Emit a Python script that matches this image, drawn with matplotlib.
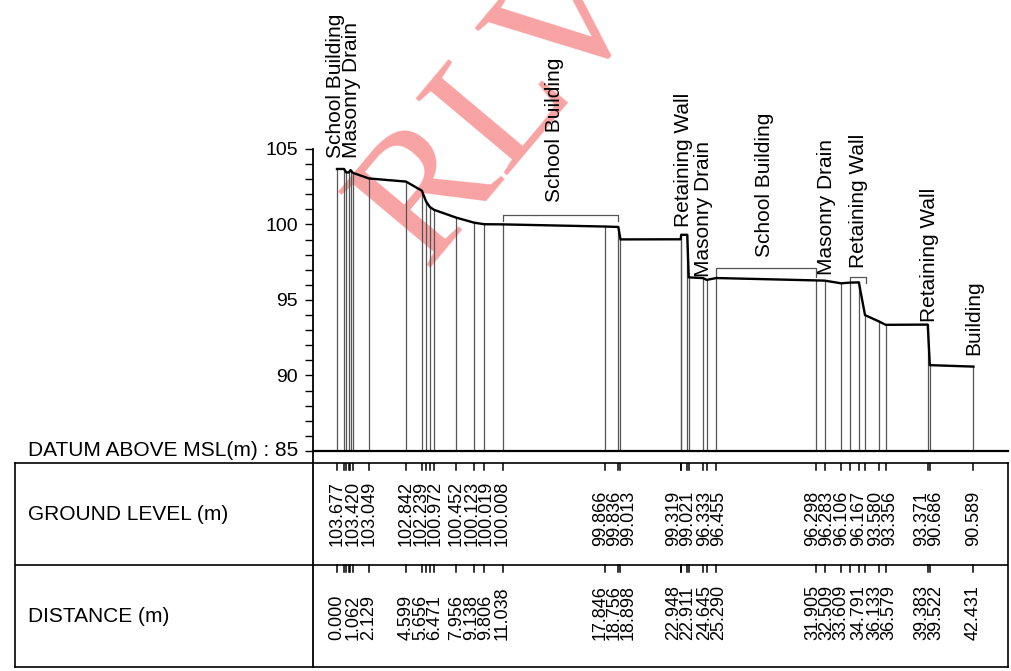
import numpy as np
import matplotlib
matplotlib.use("Agg")
import matplotlib.pyplot as plt

plt.rcParams['font.family'] = ['Liberation Sans', 'DejaVu Sans']

# Stations shown in the table (distance m, ground level m)
distances = [0.000, 1.062, 2.129, 4.599, 5.656, 6.471, 7.956, 9.138, 9.806, 11.038,
             17.846, 18.756, 18.898, 22.948, 22.911, 24.645, 25.290,
             31.905, 32.509, 33.609, 34.791, 36.133, 36.579, 39.383, 39.522, 42.431]
levels = [103.677, 103.420, 103.049, 102.842, 102.239, 100.972, 100.452, 100.123, 100.019, 100.008,
          99.866, 99.836, 99.013, 99.319, 99.021, 96.333, 96.455,
          96.298, 96.283, 96.106, 96.167, 93.580, 93.356, 93.371, 90.686, 90.589]

# Ground profile vertices as drawn (includes unlabelled break points)
profile_x = [0.000, 0.47, 0.62, 0.80, 0.90, 1.062, 2.129, 4.599, 5.656, 5.95, 6.2, 6.471,
             7.956, 9.138, 9.806, 11.038, 17.846, 18.756, 18.898, 22.911, 22.948, 23.35,
             23.45, 24.40, 24.645, 25.290, 31.905, 32.509, 33.609, 34.20, 34.791, 35.20,
             36.133, 36.579, 39.383, 39.522, 42.431]
profile_y = [103.677, 103.677, 103.45, 103.45, 103.60, 103.420, 103.049, 102.842, 102.239, 101.5,
             101.15, 100.972, 100.452, 100.123, 100.019, 100.008, 99.866, 99.836, 99.013, 99.021,
             99.319, 99.319, 96.50, 96.45, 96.333, 96.455, 96.298, 96.283, 96.106, 96.15,
             96.167, 94.00, 93.580, 93.356, 93.371, 90.686, 90.589]

# Feature annotations
features = ['School Building', 'Masonry Drain', 'School Building', 'Retaining Wall',
            'Masonry Drain', 'School Building', 'Masonry Drain', 'Retaining Wall',
            'Retaining Wall', 'Building']
feature_x = [-0.13, 0.98, 14.53, 23.07, 24.43, 28.53, 32.6, 34.8, 39.47, 42.47]
feature_y = [104.4, 104.4, 101.5, 99.85, 96.5, 97.87, 96.66, 97.1, 93.56, 91.36]

# Brackets over structures: (start, end, top level, end level)
bracket_start = [11.038, 25.290, 34.20]
bracket_end = [18.756, 31.905, 35.27]
bracket_top = [100.63, 97.14, 96.54]
bracket_low = [100.23, 96.54, 96.10]

datum = 85
W, H = 1011, 671
px = 15.0          # pixels per metre along the chainage
x0px = 337         # pixel of chainage 0


def xdata(p):
    return (p - x0px) / px


def spread(xs, gap):
    # push crowded labels apart, each crowded group centred on its stations
    groups = []
    for x in xs:
        groups.append([1, x])
        while len(groups) > 1:
            a, b = groups[-2], groups[-1]
            a_end = a[1] + (a[0] - 1) * gap / 2
            b_start = b[1] - (b[0] - 1) * gap / 2
            if b_start - a_end < gap:
                n = a[0] + b[0]
                groups[-2:] = [[n, (a[1] * a[0] + b[1] * b[0]) / n]]
            else:
                break
    out = []
    for n, c in groups:
        out += [c + (k - (n - 1) / 2) * gap for k in range(n)]
    return out


fig = plt.figure(figsize=(W / 100, H / 100), dpi=100)

# profile axes
ax = fig.add_axes([313 / W, (H - 451) / H, (1008 - 313) / W, (451 - 149) / H])
ax.set_xlim(xdata(313), xdata(1008))
ax.set_ylim(85, 105)
for s in ['top', 'right']:
    ax.spines[s].set_visible(False)
ax.spines['left'].set_linewidth(1.3)
ax.spines['bottom'].set_linewidth(1.6)
ax.set_xticks([])
ax.set_yticks([85, 90, 95, 100, 105])
ax.set_yticklabels(['', '90', '95', '100', '105'])
ax.set_yticks(np.arange(85, 106, 1), minor=True)
ax.tick_params(axis='y', which='both', length=6, width=1, direction='out', labelsize=14, pad=5)
ax.set_facecolor('none')

# watermark
ax.text(xdata(424), 85 + (451 - 268) / 15.1, 'RLV', family='Liberation Serif', fontsize=132,
        color='#f8a3a3', rotation=50, rotation_mode='anchor', ha='left', va='baseline',
        zorder=0, clip_on=False)

for x, y in zip(profile_x, profile_y):
    ax.plot([x, x], [datum, y], color='#555555', lw=0.9, zorder=2)
ax.plot(profile_x, profile_y, color='black', lw=1.7, zorder=3)

for x1, x2, yt, yl in zip(bracket_start, bracket_end, bracket_top, bracket_low):
    ax.plot([x1, x1, x2, x2], [yl, yt, yt, yl], color='#555555', lw=0.9)

for name, x, y in zip(features, feature_x, feature_y):
    ax.text(x, y, name, rotation=90, ha='center', va='bottom', fontsize=15, clip_on=False)

fig.text(298 / W, (H - 451) / H, 'DATUM ABOVE MSL(m) : 85', ha='right', va='center', fontsize=15)

# table
tb = fig.add_axes([15 / W, (H - 667) / H, (1008 - 15) / W, (667 - 463) / H])
tb.set_xlim(xdata(15), xdata(1008))
tb.set_ylim(0, 2)
tb.set_xticks([])
tb.set_yticks([])
for s in tb.spines.values():
    s.set_linewidth(1.2)
tb.axhline(1, color='black', lw=1.2)
tb.plot([xdata(313)] * 2, [0, 2.12], color='black', lw=1.3, clip_on=False)
tb.text(xdata(28), 1.5, 'GROUND LEVEL (m)', ha='left', va='center', fontsize=15)
tb.text(xdata(28), 0.5, 'DISTANCE (m)', ha='left', va='center', fontsize=15)

tick_len = 7 / 102
for x in profile_x:
    tb.plot([x, x], [2, 2 - tick_len], color='black', lw=1.1)
    tb.plot([x, x], [1, 1 - tick_len], color='black', lw=1.1)

label_x = spread(distances, 14 / px)
for lx, d, lv in zip(label_x, distances, levels):
    tb.text(lx, (667 - 546) / 102, f'{lv:.3f}', rotation=90, ha='center', va='bottom', fontsize=13)
    tb.text(lx, (667 - 640) / 102, f'{d:.3f}', rotation=90, ha='center', va='bottom', fontsize=13)

fig.savefig('out.png', dpi=100)
